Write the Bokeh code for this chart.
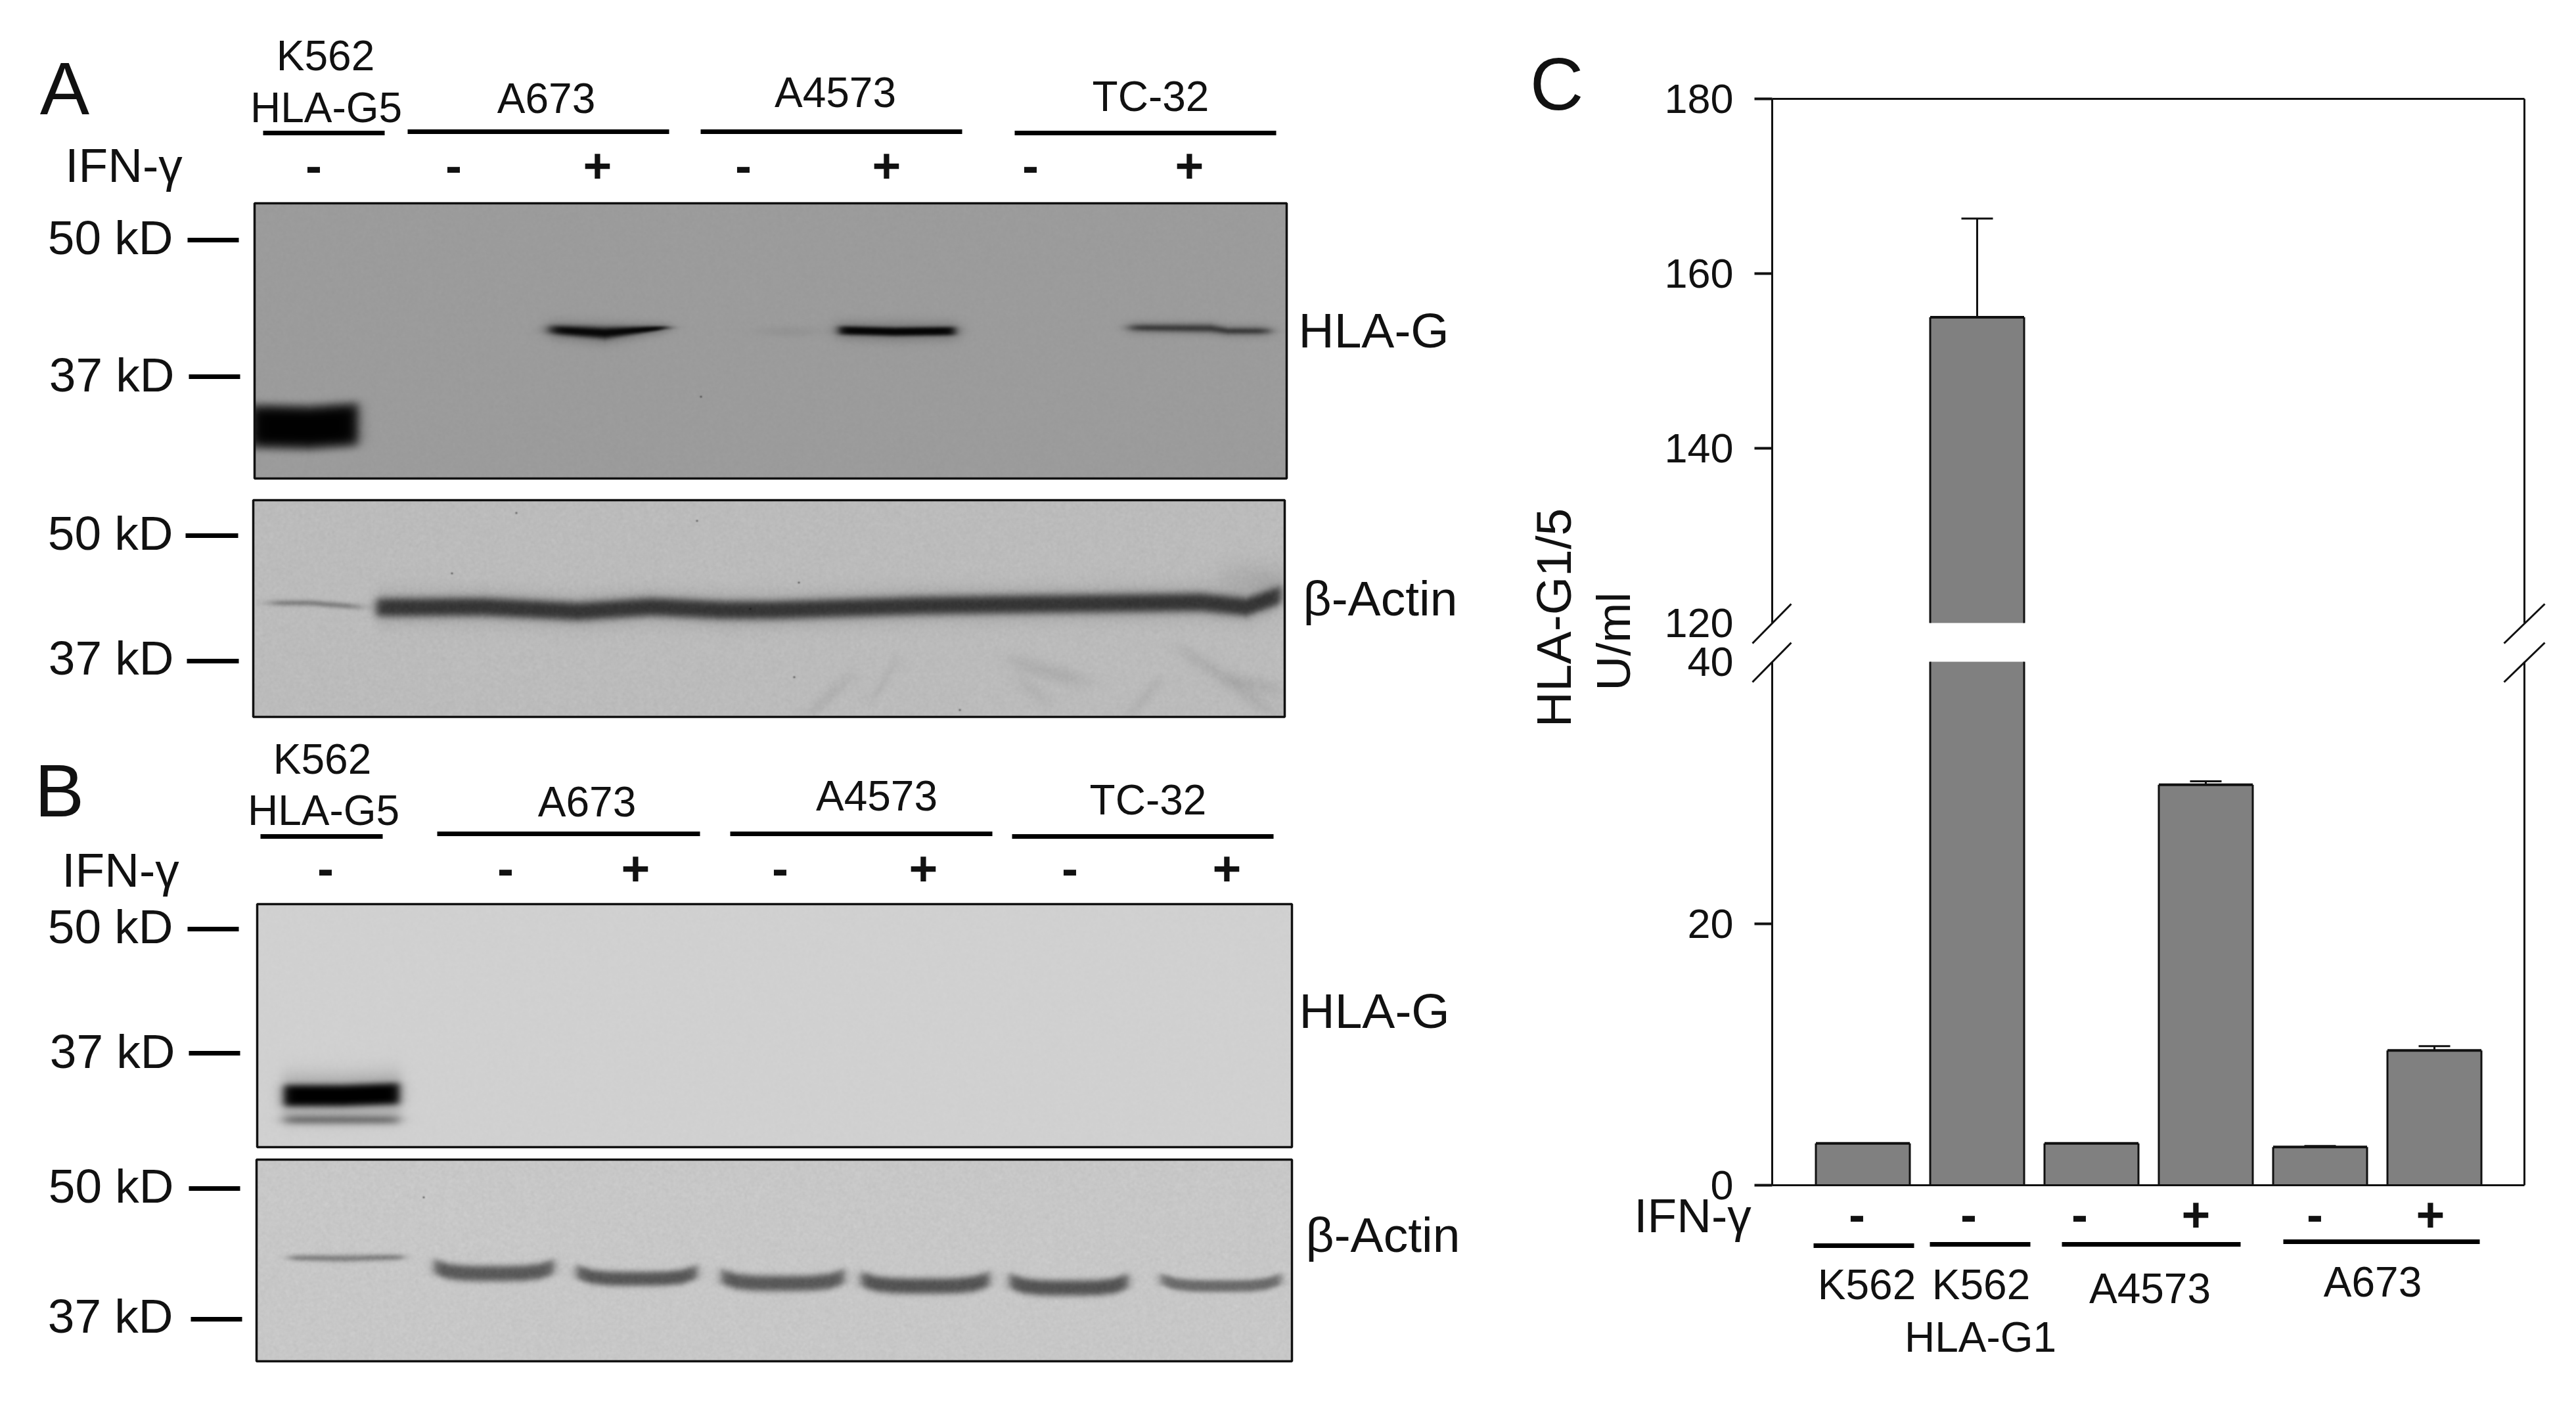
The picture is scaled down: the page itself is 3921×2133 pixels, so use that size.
import numpy as np
from bokeh.plotting import figure
from bokeh.models import Range1d, LinearAxis, FixedTicker
from bokeh.core.properties import value
from bokeh.embed import file_html
from bokeh.resources import INLINE

# ---------- chart values (panel C) ----------
categories = ["K562", "K562 HLA-G1", "A4573 -", "A4573 +", "A673 -", "A673 +"]
ifn_gamma = ["-", "-", "-", "+", "-", "+"]
hla_values = [3.2, 155.0, 3.2, 30.6, 2.92, 10.3]
hla_errors = [0.0, 11.3, 0.0, 0.27, 0.08, 0.33]
upper_ticks = [140, 160, 180]
lower_ticks = [0, 20]
break_ticks_upper = [120]
break_ticks_lower = [40]

FONT = value("Liberation Sans")
W, H = 3905, 2117
OX, OY = 0, 0   # main ranges are in screenshot pixels

p = figure(width=W, height=H, output_backend="svg", toolbar_location=None,
           x_range=Range1d(OX, OX + W), y_range=Range1d(OY + H, OY),
           x_axis_type=None, y_axis_type=None, min_border=0,
           outline_line_color=None, background_fill_color="white", border_fill_color="white")
p.grid.visible = False


def scale_range(v_a, px_a, v_b, px_b, px_start, px_end):
    k = (v_b - v_a) / (px_b - px_a)
    return Range1d(v_a + (px_start - px_a) * k, v_a + (px_end - px_a) * k)


p.extra_y_ranges = {
    "low": scale_range(0, 1804, 40, 1007, OY + H, OY),
    "up": scale_range(120, 948, 180, 150, OY + H, OY),
    "flip": Range1d(0, H),
}
p.extra_x_ranges = {"idx": scale_range(0, 2835, 5, 3705, OX, OX + W)}


# ---------- blots ----------
def blank(l, t, r, b, grey):
    ys, xs = np.mgrid[t:b, l:r]
    return dict(l=l, t=t, r=r, b=b, xs=xs.astype(float), ys=ys.astype(float),
                img=np.full(xs.shape, float(grey)))


def band(bl, ptx, pty, th, a, soft=5.0, pw=2.0):
    xs, ys = bl["xs"], bl["ys"]
    yc = np.interp(xs, ptx, pty)
    hw = np.interp(xs, ptx, th)
    xprof = 1 / (1 + np.exp((ptx[0] - xs) / soft)) * 1 / (1 + np.exp((xs - ptx[-1]) / soft))
    yprof = np.exp(-np.abs((ys - yc) / hw) ** pw)
    bl["img"] *= 1 - a * xprof * yprof


def arc(x0, x1, c, drop, n=9):
    xs = np.linspace(x0, x1, n)
    t = (xs - (x0 + x1) / 2) / ((x1 - x0) / 2)
    return list(xs), list(c - drop * t ** 4)


def grain(bl, amp):
    # film grain: a fixed, smoothed hash pattern of the pixel position
    h = np.sin(bl["xs"] * 12.9898 + bl["ys"] * 78.233) * 43758.5453
    h = h - np.floor(h) - 0.5
    for ax in (0, 1):
        h = (h + np.roll(h, 1, ax) + np.roll(h, -1, ax) + np.roll(h, 2, ax)) / 4
    bl["img"] += h * amp * 2 * (bl["img"] > 15)


def draw_blot(bl):
    g = np.clip(bl["img"], 0, 255).astype(np.uint32)
    rgba = (g | (g << 8) | (g << 16) | (255 << 24)).astype(np.uint32)[::-1]
    p.image_rgba(image=[rgba], x=[bl["l"]], y=[OY + H - bl["b"]],
                 dw=[bl["r"] - bl["l"]], dh=[bl["b"] - bl["t"]], y_range_name="flip")
    p.quad(left=[bl["l"]], right=[bl["r"]], top=[bl["t"]], bottom=[bl["b"]],
           fill_color=None, line_color="#111111", line_width=3.5)


def speck(bl, x, y):
    band(bl, [x - 1, x + 1], [y, y], [1.5, 1.5], 0.7, soft=0.6)


# A: HLA-G
a1 = blank(387, 309, 1958, 728, 156)
band(a1, [833, 920, 1018], [501, 507, 498], [14, 16, 8], 0.25, soft=6)
band(a1, [838, 920, 1012], [501, 506, 498], [7, 9, 3], 0.93, soft=6, pw=2.5)
band(a1, [1272, 1362, 1458], [502, 504, 503], [14, 15, 14], 0.25, soft=6)
band(a1, [1277, 1362, 1452], [502, 504, 503], [7, 7, 7], 0.95, soft=4, pw=3)
band(a1, [1160, 1240], [504, 504], [8, 8], 0.06, soft=15)
band(a1, [1716, 1842, 1868, 1932], [498, 499, 503, 503], [10, 10, 10, 10], 0.2, soft=6)
band(a1, [1720, 1842, 1868, 1930], [498, 499, 503, 503], [5, 6, 5, 5], 0.5, soft=6)
band(a1, [380, 470, 544], [648, 650, 645], [34, 34, 34], 0.99, soft=5, pw=5)
grain(a1, 5)
speck(a1, 1066, 603)
draw_blot(a1)

# A: beta-actin
a2 = blank(385, 761, 1955, 1091, 188)
bx = [572, 734, 880, 990, 1100, 1176, 1406, 1559, 1827, 1896, 1949]
by = [924, 923, 930, 923, 928, 928, 921, 919, 916, 923, 905]
band(a2, bx, by, [15] * 11, 0.66, soft=4, pw=3)
band(a2, bx, by, [25] * 11, 0.15, soft=4)
band(a2, [411, 470, 547], [917, 917, 923], [5, 5, 5], 0.3, soft=8)
for sx, sy in [([1230, 1291], [1086, 1032]), ([1330, 1360], [1059, 1010]), ([1536, 1651], [1006, 1037]),
               ([1559, 1590], [1041, 1064]), ([1796, 1865, 1949], [988, 1032, 1050]),
               ([1873, 1934], [1041, 1082]), ([1720, 1760], [1085, 1040])]:
    band(a2, sx, sy, [14] * len(sx), 0.07, soft=10)
band(a2, [1860, 1955], [880, 880], [26, 26], 0.08, soft=12)
grain(a2, 11)
for sx, sy in [(785, 780), (1060, 792), (1215, 886), (1141, 926), (687, 872), (1208, 1030), (1460, 1080)]:
    speck(a2, sx, sy)
draw_blot(a2)

# B: HLA-G
b1 = blank(391, 1376, 1966, 1746, 209)
band(b1, [429, 520, 609], [1668, 1668, 1664], [30, 30, 30], 0.3, soft=5)
band(b1, [432, 520, 606], [1667, 1667, 1664], [17, 17, 17], 1.0, soft=4, pw=4)
band(b1, [432, 606], [1704, 1704], [8, 8], 0.38, soft=6)
grain(b1, 4)
draw_blot(b1)

# B: beta-actin
b2 = blank(390, 1765, 1966, 2072, 200)
band(b2, [440, 525, 613], [1914, 1915, 1913], [5, 6, 5], 0.33, soft=5)
for x0, x1, c, th, a in [(660, 842, 1938, 13, 0.55), (877, 1060, 1946, 12, 0.56), (1097, 1284, 1953, 13, 0.55),
                         (1310, 1505, 1957, 13, 0.58), (1536, 1716, 1960, 13, 0.58), (1766, 1949, 1957, 10, 0.46)]:
    ax, ay = arc(x0, x1, c, 10)
    band(b2, ax, ay, [th] * len(ax), a, soft=4, pw=3)
grain(b2, 12)
speck(b2, 644, 1822)
draw_blot(b2)

# ---------- panel C bars ----------
xi = list(range(len(hla_values)))
bw = 143 / 174
cap = 48 / 174
FILL = "#808080"
EDGE = "#111111"
LW = 3

low_top = [min(v, 40) for v in hla_values]
p.vbar(x=xi, top=low_top, bottom=0, width=bw, fill_color=FILL, line_color=None,
       x_range_name="idx", y_range_name="low")
left = [i - bw / 2 for i in xi]
right = [i + bw / 2 for i in xi]
p.segment(x0=left + right, x1=left + right, y0=[0] * 12, y1=low_top + low_top, line_color=EDGE, line_width=LW,
          x_range_name="idx", y_range_name="low")
small = [i for i in xi if hla_values[i] <= 40]
p.segment(x0=[left[i] for i in small], x1=[right[i] for i in small],
          y0=[hla_values[i] for i in small], y1=[hla_values[i] for i in small], line_color=EDGE, line_width=4,
          x_range_name="idx", y_range_name="low")
big = [i for i in xi if hla_values[i] > 40]
p.vbar(x=big, top=[hla_values[i] for i in big], bottom=120, width=bw, fill_color=FILL, line_color=None,
       x_range_name="idx", y_range_name="up")
p.segment(x0=[left[i] for i in big] + [right[i] for i in big], x1=[left[i] for i in big] + [right[i] for i in big],
          y0=[120] * (2 * len(big)), y1=[hla_values[i] for i in big] * 2, line_color=EDGE, line_width=LW,
          x_range_name="idx", y_range_name="up")
p.segment(x0=[left[i] for i in big], x1=[right[i] for i in big],
          y0=[hla_values[i] for i in big], y1=[hla_values[i] for i in big], line_color=EDGE, line_width=4,
          x_range_name="idx", y_range_name="up")

for idxs, rng in ((small, "low"), (big, "up")):
    idxs = [i for i in idxs if hla_errors[i] > 0]
    tops = [hla_values[i] + hla_errors[i] for i in idxs]
    p.segment(x0=idxs, x1=idxs, y0=[hla_values[i] for i in idxs], y1=tops, line_color=EDGE, line_width=LW,
              x_range_name="idx", y_range_name=rng)
    p.segment(x0=[i - cap / 2 for i in idxs], x1=[i + cap / 2 for i in idxs], y0=tops, y1=tops,
              line_color=EDGE, line_width=LW, x_range_name="idx", y_range_name=rng)

# ---------- panel C axes ----------
AX_X, AX_R = 2697, 3842


def add_axis(rng, ticks, bounds, tick_out):
    ax = LinearAxis(y_range_name=rng, fixed_location=AX_X, bounds=bounds,
                    ticker=FixedTicker(ticks=ticks))
    ax.axis_line_color = EDGE
    ax.axis_line_width = 3
    ax.major_tick_line_color = EDGE
    ax.major_tick_line_width = 4
    ax.major_tick_in = 0
    ax.major_tick_out = tick_out
    ax.minor_tick_line_color = None
    ax.major_label_standoff = 59 - tick_out + 0
    ax.major_label_text_font = "Liberation Sans"
    ax.major_label_text_font_size = "63px"
    ax.major_label_text_color = "#111111"
    p.add_layout(ax, "left")


add_axis("up", upper_ticks, (120, 180), 27)
add_axis("up", break_ticks_upper, (120, 180), 0)
add_axis("low", lower_ticks, (0, 40), 27)
add_axis("low", break_ticks_lower, (0, 40), 0)

p.segment(x0=[AX_R, AX_X], x1=[AX_R, AX_R], y0=[120, 180], y1=[180, 180], line_color=EDGE, line_width=3, y_range_name="up")
p.segment(x0=[AX_R, AX_X], x1=[AX_R, AX_R], y0=[0, 0], y1=[40, 0], line_color=EDGE, line_width=3, y_range_name="low")

# break marks
p.segment(x0=[2667, 2667, 3811, 3811], x1=[2726, 2726, 3873, 3873],
          y0=[979, 1038, 979, 1038], y1=[919, 978, 919, 978], line_color=EDGE, line_width=3)


# ---------- text and rules ----------
BASE = 0.36  # the anchor of a text sits at the middle of its capitals


def t(x, y, s, size=64, align="center", bold=False, angle=0.0):
    if angle:
        x = x - BASE * size
    else:
        y = y - BASE * size
    p.text(x=[x], y=[y], text=[s], text_font=FONT, text_font_size=f"{size}px", text_align=align,
           text_baseline="alphabetic", text_color="#111111", angle=angle,
           text_font_style="bold" if bold else "normal")


def rules(items, lw=7):
    p.segment(x0=[i[0] for i in items], x1=[i[1] for i in items], y0=[i[2] for i in items], y1=[i[2] for i in items],
              line_color="black", line_width=lw)


def signs(xs, marks, y):
    for x, m in zip(xs, marks):
        t(x, y, m, size=75, bold=True)


for x, y, s in [(98, 175, "A"), (90, 1244, "B"), (2369, 168, "C")]:
    t(x, y, s, size=113)

# panel A
t(495, 108, "K562"); t(496, 187, "HLA-G5"); t(831, 173, "A673"); t(1271, 164, "A4573"); t(1751, 170, "TC-32")
t(188, 277, "IFN-γ", size=73)
rules([(400, 585, 202), (620, 1018, 200), (1066, 1464, 200), (1544, 1942, 202)])
signs([477, 690, 909, 1131, 1349, 1568, 1810], ["-", "-", "+", "-", "+", "-", "+"], 278)
t(263, 387, "50 kD", size=73, align="right"); t(265, 596, "37 kD", size=73, align="right")
t(263, 837, "50 kD", size=73, align="right"); t(264, 1027, "37 kD", size=73, align="right")
rules([(285, 363, 365), (287, 365, 573), (282, 362, 815), (284, 363, 1006)])
t(1976, 529, "HLA-G", size=75, align="left"); t(1983, 937, "β-Actin", size=75, align="left")

# panel B
t(490, 1179, "K562"); t(492, 1257, "HLA-G5"); t(893, 1244, "A673"); t(1334, 1235, "A4573"); t(1747, 1241, "TC-32")
t(183, 1350, "IFN-γ", size=73)
rules([(396, 582, 1273), (665, 1065, 1269), (1111, 1510, 1269), (1540, 1938, 1273)])
signs([495, 769, 967, 1187, 1405, 1628, 1867], ["-", "-", "+", "-", "+", "-", "+"], 1348)
t(263, 1436, "50 kD", size=73, align="right"); t(266, 1626, "37 kD", size=73, align="right")
t(264, 1831, "50 kD", size=73, align="right"); t(263, 2029, "37 kD", size=73, align="right")
rules([(285, 363, 1414), (287, 365, 1603), (287, 365, 1809), (290, 368, 2008)])
t(1977, 1565, "HLA-G", size=75, align="left"); t(1987, 1906, "β-Actin", size=75, align="left")

# panel C
t(2576, 1876, "IFN-γ", size=73)
signs([2826, 2996, 3165, 3342, 3523, 3699], ifn_gamma, 1875)
rules([(2760, 2913, 1896), (2937, 3090, 1894), (3138, 3410, 1894), (3475, 3774, 1890)])
t(2841, 1979, "K562"); t(3015, 1979, "K562"); t(3014, 2059, "HLA-G1"); t(3272, 1985, "A4573"); t(3611, 1975, "A673")
t(2391, 940, "HLA-G1/5", size=75, angle=np.pi / 2)
t(2481, 976, "U/ml", size=73, angle=np.pi / 2)

open("out.html", "w").write(file_html(p, INLINE))
